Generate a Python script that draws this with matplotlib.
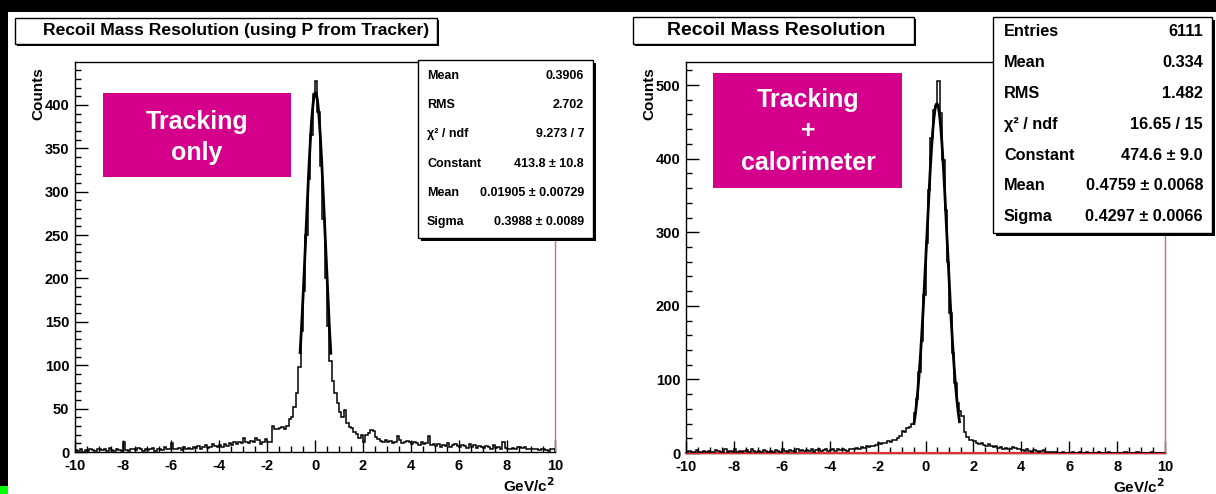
import numpy as np
import matplotlib
matplotlib.use("Agg")
import matplotlib.pyplot as plt
from matplotlib.patches import Rectangle
from matplotlib.ticker import MultipleLocator

plt.rcParams['font.family'] = ['Liberation Sans', 'DejaVu Sans']
plt.rcParams['font.weight'] = 'bold'
plt.rcParams['axes.labelweight'] = 'bold'
plt.rcParams['mathtext.default'] = 'bf'
plt.rcParams['axes.unicode_minus'] = False

W, H = 1216, 494

# Histogram binning (GeV/c^2)
bin_lo, bin_hi, n_bins = -10.0, 10.0, 200

# Recoil mass, momentum from the tracker only: counts per 0.1 GeV/c^2 bin
tracking_counts = [
    2, 1, 3, 0, 2, 1, 4, 2, 1, 3,          # -10 .. -9.1
    4, 2, 3, 1, 5, 2, 1, 3, 2, 1,          # -9
    12, 2, 1, 3, 4, 2, 5, 3, 1, 4,         # -8
    2, 3, 5, 1, 4, 3, 2, 6, 3, 4,          # -7
    10, 3, 4, 5, 2, 6, 4, 5, 3, 6,         # -6
    5, 7, 4, 6, 8, 5, 6, 9, 7, 6,          # -5
    8, 6, 9, 7, 10, 8, 11, 9, 12, 10,      # -4
    16, 12, 10, 13, 11, 16, 14, 9, 12, 15, # -3
    12, 11, 30, 27, 26, 28, 29, 27, 30, 38,        # -2
    40, 52, 68, 98, 140, 185, 250, 315, 365, 412,  # -1
    428, 392, 330, 268, 200, 145, 105, 82, 68, 56, # 0
    46, 40, 48, 33, 29, 28, 23, 21, 16, 20,        # 1
    12, 20, 22, 25, 24, 17, 15, 13, 12, 14,        # 2
    11, 13, 10, 12, 18, 14, 10, 11, 13, 12,        # 3
    9, 12, 10, 8, 11, 9, 10, 18, 8, 9,             # 4
    7, 9, 6, 8, 7, 10, 6, 8, 9, 7,                 # 5
    6, 8, 7, 5, 9, 6, 8, 5, 7, 6,                  # 6
    5, 7, 6, 4, 8, 5, 6, 4, 12, 5,                 # 7
    4, 3, 5, 4, 6, 6, 5, 6, 4, 3,                  # 8
    3, 4, 3, 2, 3, 4, 2, 1, 3, 4,                  # 9
]

# Recoil mass, tracker + calorimeter: counts per 0.1 GeV/c^2 bin (6111 entries)
combined_counts = [
    2, 3, 1, 2, 4, 2, 1, 3, 2, 3,          # -10
    1, 2, 4, 3, 2, 1, 5, 2, 3, 2,          # -9
    6, 2, 3, 1, 3, 4, 2, 5, 3, 2,          # -8
    3, 2, 4, 3, 1, 3, 2, 4, 3, 2,          # -7
    6, 3, 2, 4, 3, 2, 5, 3, 4, 3,          # -6
    4, 3, 5, 2, 4, 6, 3, 4, 5, 3,          # -5
    4, 5, 3, 6, 4, 5, 4, 3, 6, 5,          # -4
    6, 7, 5, 8, 7, 9, 8, 10, 9, 11,        # -3
    13, 12, 14, 13, 16, 15, 18, 17, 20, 23,        # -2
    30, 28, 34, 36, 40, 54, 74, 110, 152, 215,     # -1
    285, 358, 428, 466, 471, 506, 462, 398, 330, 260,  # 0
    190, 136, 95, 68, 57, 50, 28, 22, 18, 17,      # 1
    16, 14, 12, 13, 11, 10, 12, 9, 8, 9,           # 2
    7, 8, 6, 7, 5, 6, 8, 7, 5, 6,                  # 3
    4, 3, 5, 3, 2, 4, 3, 2, 3, 4,                  # 4
    1, 1, 2, 1, 1, 0, 0, 1, 0, 0,                  # 5
    0, 1, 0, 0, 1, 0, 0, 1, 0, 0,                  # 6
    0, 0, 1, 0, 0, 0, 1, 0, 0, 0,                  # 7
    0, 0, 0, 1, 0, 0, 0, 0, 1, 0,                  # 8
    0, 0, 0, 0, 1, 0, 0, 0, 0, 0,                  # 9
]

# Gaussian fit results and fit ranges
tracking_fit = dict(constant=413.8, mean=0.01905, sigma=0.3988, lo=-0.62, hi=0.66)
combined_fit = dict(constant=474.6, mean=0.4759, sigma=0.4297, lo=-0.48, hi=1.42)

tracking_title = "Recoil Mass Resolution (using P from Tracker)"
combined_title = "Recoil Mass Resolution"

tracking_stats = [
    ("Mean", "0.3906"),
    ("RMS", "2.702"),
    ("χ² / ndf", "9.273 / 7"),
    ("Constant", "413.8 ± 10.8"),
    ("Mean", "0.01905 ± 0.00729"),
    ("Sigma", "0.3988 ± 0.0089"),
]
combined_stats = [
    ("Entries", "6111"),
    ("Mean", "0.334"),
    ("RMS", "1.482"),
    ("χ² / ndf", "16.65 / 15"),
    ("Constant", "474.6 ± 9.0"),
    ("Mean", "0.4759 ± 0.0068"),
    ("Sigma", "0.4297 ± 0.0066"),
]

tracking_tag = "Tracking\nonly"
combined_tag = "Tracking\n+\ncalorimeter"

PINK = "#d4008c"
FRAME_RED = "#d07070"


def px_rect(x0, y0, x1, y1):
    """Figure-fraction rectangle from pixel corners (origin top-left)."""
    return [x0 / W, 1 - y1 / H, (x1 - x0) / W, (y1 - y0) / H]


def fx(x):
    return x / W


def fy(y):
    return 1 - y / H


fig = plt.figure(figsize=(W / 100, H / 100), dpi=100, facecolor="black")

# slide background
fig.patches.append(Rectangle((fx(8), 0), 1 - fx(8), fy(12), transform=fig.transFigure,
                             facecolor="white", edgecolor="none", zorder=-5))
fig.patches.append(Rectangle((0, 0), fx(8), 8 / H, transform=fig.transFigure,
                             facecolor="#00ff00", edgecolor="none", zorder=-4))


def shadow_box(x0, y0, x1, y1, shadow=3, z=4):
    fig.patches.append(Rectangle((fx(x0 + shadow), fy(y1 + shadow)),
                                 (x1 - x0) / W, (y1 - y0) / H, transform=fig.transFigure,
                                 facecolor="black", edgecolor="none", zorder=z))
    fig.patches.append(Rectangle((fx(x0), fy(y1)), (x1 - x0) / W, (y1 - y0) / H,
                                 transform=fig.transFigure, facecolor="white",
                                 edgecolor="black", lw=1.0, zorder=z + 0.1))


def draw_panel(rect, counts, fit, ymajor, yminor, red_baseline):
    ax = fig.add_axes(rect)
    edges = np.linspace(bin_lo, bin_hi, n_bins + 1)
    counts = np.asarray(counts, dtype=float)

    if red_baseline:
        ax.axhline(0, color="#e03030", lw=1.6, zorder=2.6, clip_on=False)

    ax.stairs(counts, edges, color="black", lw=1.1, zorder=3)

    xs = np.linspace(fit["lo"], fit["hi"], 400)
    ax.plot(xs, fit["constant"] * np.exp(-0.5 * ((xs - fit["mean"]) / fit["sigma"]) ** 2),
            color="black", lw=2.0, zorder=4)

    ax.set_xlim(bin_lo, bin_hi)
    ax.set_ylim(0, 1.05 * counts.max())
    ax.xaxis.set_major_locator(MultipleLocator(2))
    ax.xaxis.set_minor_locator(MultipleLocator(0.5))
    ax.yaxis.set_major_locator(MultipleLocator(ymajor))
    ax.yaxis.set_minor_locator(MultipleLocator(yminor))
    ax.tick_params(which="both", direction="in", top=False, right=False,
                   labelsize=10.5, width=1.0, colors="black")
    ax.tick_params(axis="x", which="major", length=9, pad=5)
    ax.tick_params(axis="y", which="major", length=9, pad=4)
    ax.tick_params(which="minor", length=4.5)
    for s in ax.spines.values():
        s.set_linewidth(1.0)
        s.set_zorder(2.5)
    ax.spines["right"].set_color(FRAME_RED)

    ax.set_ylabel("Counts", fontsize=11, loc="top")
    ax.yaxis.set_label_coords(-0.062, 0.987)
    ax.set_xlabel(r"GeV/c$^{2}$", fontsize=11, loc="right")
    ax.xaxis.set_label_coords(1.0, -0.062)
    return ax


draw_panel(px_rect(75, 62, 555, 452), tracking_counts, tracking_fit, 50, 10, False)
draw_panel(px_rect(686, 62, 1165, 453), combined_counts, combined_fit, 100, 20, True)

# title boxes
shadow_box(15, 18, 437, 44, shadow=2)
fig.text(fx(236), fy(31), tracking_title, ha="center", va="center", fontsize=12.6, zorder=6)
shadow_box(633, 17, 914, 44, shadow=2)
fig.text(fx(776), fy(30.5), combined_title, ha="center", va="center", fontsize=14, zorder=6)

# statistics boxes
shadow_box(418, 60, 593, 238, shadow=3)
for i, (name, val) in enumerate(tracking_stats):
    y = 76 + i * 29.2
    fig.text(fx(427), fy(y), name, ha="left", va="center", fontsize=9, zorder=6)
    fig.text(fx(584), fy(y), val, ha="right", va="center", fontsize=9, zorder=6)

shadow_box(993, 17, 1212, 233, shadow=3)
for i, (name, val) in enumerate(combined_stats):
    y = 32 + i * 30.8
    fig.text(fx(1004), fy(y), name, ha="left", va="center", fontsize=11.7, zorder=6)
    fig.text(fx(1203), fy(y), val, ha="right", va="center", fontsize=11.7, zorder=6)

# highlighted labels
fig.patches.append(Rectangle((fx(103), fy(177)), 188 / W, 84 / H, transform=fig.transFigure,
                             facecolor=PINK, edgecolor="none", zorder=5))
fig.text(fx(197), fy(137.5), tracking_tag, ha="center", va="center", fontsize=18,
         color="white", linespacing=1.4, zorder=6)

fig.patches.append(Rectangle((fx(713), fy(188)), 189 / W, 115 / H, transform=fig.transFigure,
                             facecolor=PINK, edgecolor="none", zorder=5))
fig.text(fx(808), fy(131.5), combined_tag, ha="center", va="center", fontsize=18,
         color="white", linespacing=1.38, zorder=6)

fig.savefig("out.png", dpi=100, facecolor=fig.get_facecolor())
